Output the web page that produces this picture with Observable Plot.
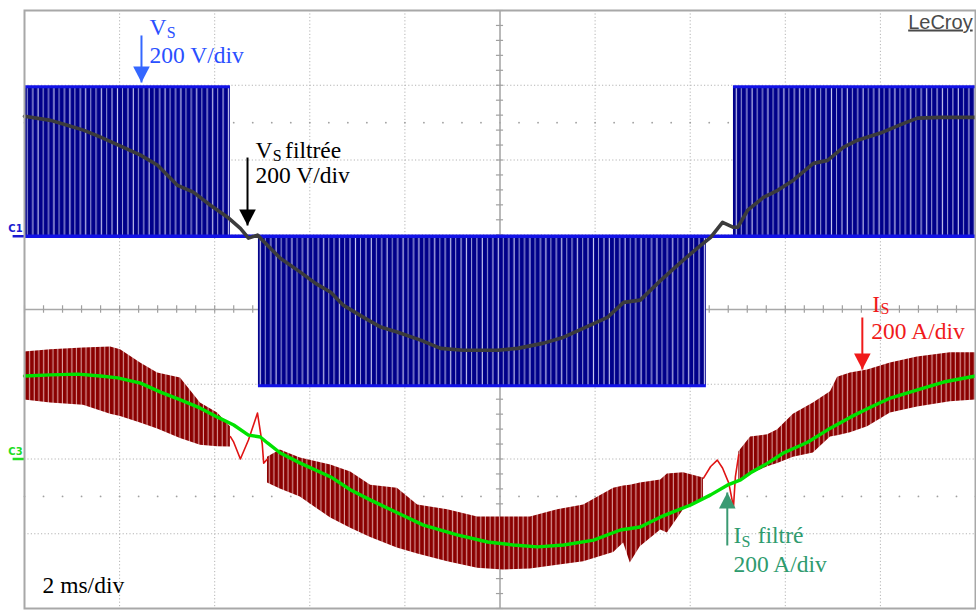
<!DOCTYPE html>
<html>
<head>
<meta charset="utf-8">
<script src="https://cdn.jsdelivr.net/npm/d3@7"></script>
<script src="https://cdn.jsdelivr.net/npm/@observablehq/plot@0.6"></script>
<style>
html, body { margin: 0; padding: 0; background: #fff; }
#chart svg { display: block; }
</style>
</head>
<body>
<svg width="0" height="0" style="position:absolute">
  <defs>
    <pattern id="pwmBlue" patternUnits="userSpaceOnUse" width="47.6" height="600">
      <rect width="47.6" height="600" fill="#00008a"/>
      <rect x="0.4" width="1.0" height="600" fill="#b8b8ea"/>
      <rect x="5.7" width="1.2" height="600" fill="#c4c4f0"/>
      <rect x="11.1" width="0.9" height="600" fill="#a8acdf"/>
      <rect x="16.3" width="1.1" height="600" fill="#bcbcec"/>
      <rect x="21.7" width="1.2" height="600" fill="#c8c8f2"/>
      <rect x="26.9" width="0.9" height="600" fill="#aeb0e2"/>
      <rect x="32.2" width="1.1" height="600" fill="#bdbdee"/>
      <rect x="37.5" width="1.2" height="600" fill="#c6c6f0"/>
      <rect x="42.8" width="0.9" height="600" fill="#b0b2e4"/>
    </pattern>
    <pattern id="ripRed" patternUnits="userSpaceOnUse" width="14.1" height="600">
      <rect width="14.1" height="600" fill="#8a0000"/>
      <rect x="0.8" width="1.2" height="600" fill="#dc9a9a"/>
      <rect x="5.5" width="1.0" height="600" fill="#e4aaaa"/>
      <rect x="10.1" width="1.2" height="600" fill="#d08c8c"/>
    </pattern>
  </defs>
</svg>
<div id="chart"></div>
<script>
// ---- display settings (oscilloscope) ----
const timeDomain = [0, 20];          // ms, 2 ms/div, 10 divisions
const divDomain = [-4, 4];           // vertical divisions
const voltsPerDiv = 200, ampsPerDiv = 200;
const vsOffsetDiv = 0.98;            // C1 zero level
const isOffsetDiv = -2.0;            // C3 zero level

// ---- grid ----
const gridT = [2, 4, 6, 8, 12, 14, 16, 18];
const gridDiv = [-3, -2, -1, 1, 2, 3];
const minorT = d3.range(0, 20.001, 0.4);
const minorDiv = d3.range(-4, 4.001, 0.2);
const dotRowDiv = [2.5, -2.5];

// ---- V_S (PWM) sections: start/end time (ms) and pulse level (V) ----
const pwmStart = [0, 4.92, 14.91];
const pwmEnd = [4.33, 14.34, 20];
const pwmLevel = [400, -400, 400];

// ---- V_S filtered (V) ----
const vsFiltT = [0, 0.55, 0.90, 1.24, 1.60, 2.08, 2.44, 2.80, 3.22, 3.55, 3.91, 4.27, 4.54, 4.71, 4.90, 5.11, 5.38, 5.80, 6.12, 6.44, 6.71, 7.13, 7.49, 7.85, 8.33, 8.75, 9.23, 9.95, 10.37, 10.92, 11.34, 11.90, 12.26, 12.60, 12.95, 13.38, 13.80, 14.15, 14.43, 14.68, 14.91, 15.00, 15.21, 15.54, 15.84, 16.17, 16.59, 16.89, 17.22, 17.52, 18.00, 18.49, 18.78, 19.26, 20.00];
const vsFiltV = [321, 310, 297, 284, 265, 238, 217, 190, 136, 118, 83, 51, 21, -5, 3, -24, -59, -96, -126, -150, -185, -217, -243, -257, -278, -300, -305, -305, -300, -286, -270, -238, -217, -177, -171, -118, -70, -32, -3, 37, 24, 24, 70, 104, 123, 150, 195, 203, 238, 257, 276, 302, 316, 318, 318];

// ---- I_S filtered (A) ----
const isFiltT = [0, 0.55, 1.12, 1.60, 1.96, 2.44, 2.86, 3.28, 3.70, 4.06, 4.40, 4.71, 4.96, 5.11, 5.38, 5.80, 6.44, 6.86, 7.28, 7.84, 8.39, 9.10, 9.74, 10.28, 10.79, 11.34, 11.97, 12.53, 12.95, 13.38, 13.59, 14.01, 14.43, 14.78, 15.06, 15.27, 15.63, 15.96, 16.47, 16.89, 17.37, 17.80, 18.21, 18.78, 19.33, 20.00];
const isFiltI = [222, 225, 227, 222, 217, 203, 179, 158, 136, 112, 91, 64, 59, 43, 16, -11, -48, -83, -110, -144, -177, -203, -222, -230, -235, -230, -217, -190, -182, -155, -144, -123, -96, -70, -56, -37, -11, 16, 45, 78, 112, 139, 163, 185, 206, 222];

// ---- I_S ripple envelope (A), three switching sections ----
const isBand1T = [0, 0.55, 1.24, 1.81, 2.02, 2.44, 2.80, 3.28, 3.70, 4.06, 4.33];
const isBand1Hi = [286, 292, 297, 300, 292, 257, 230, 217, 150, 123, 86];
const isBand1Lo = [158, 150, 144, 120, 114, 96, 80, 55, 37, 33, 32];
const isBand2T = [5.11, 5.38, 5.80, 6.44, 6.86, 7.28, 7.84, 8.27, 8.90, 9.53, 10.07, 10.64, 11.21, 11.76, 12.39, 12.60, 12.74, 12.95, 13.38, 13.52, 13.86, 14.28];
const isBand2Hi = [5, 24, 3, -16, -35, -70, -78, -123, -136, -155, -155, -155, -136, -123, -78, -72, -70, -64, -56, -40, -37, -51];
const isBand2Lo = [-64, -80, -102, -158, -185, -210, -238, -254, -275, -292, -297, -294, -284, -275, -250, -225, -278, -235, -190, -198, -136, -110];
const isBand3T = [15.02, 15.27, 15.63, 15.84, 16.17, 16.59, 16.95, 17.10, 17.37, 17.73, 18.21, 18.78, 19.47, 20.00];
const isBand3Hi = [19, 59, 65, 78, 120, 150, 180, 219, 230, 238, 257, 273, 284, 284];
const isBand3Lo = [-56, -40, -21, -12, 5, 16, 59, 62, 70, 86, 123, 139, 153, 158];

// ---- I_S around the zero-voltage intervals (A) ----
const isGap1T = [4.33, 4.40, 4.54, 4.71, 4.90, 5.00, 5.03, 5.11];
const isGap1I = [60, 45, 0, 51, 123, 40, -11, 0];
const isGap2T = [14.28, 14.43, 14.57, 14.68, 14.81, 14.91, 14.95, 15.02];
const isGap2I = [-51, -20, -3, -24, -64, -128, -48, 11];

// ---- annotations (time ms, vertical div) ----
const labelText = ["V", "S", "200 V/div", "V", "S", "filtrée", "200 V/div", "I", "S", "200 A/div", "I", "S", "filtré", "200 A/div", "2 ms/div"];
const labelT = [2.63, 2.99, 2.63, 4.86, 5.22, 5.48, 4.86, 17.83, 18.00, 17.81, 14.91, 15.08, 15.42, 14.91, 0.38];
const labelDiv = [3.666, 3.626, 3.291, 2.033, 1.986, 2.033, 1.686, -0.040, -0.062, -0.400, -3.130, -3.177, -3.130, -3.518, -3.786];
const labelSize = [23.5, 16, 23.5, 23.5, 16, 23.5, 23.5, 23.5, 16, 23.5, 23.5, 16, 23.5, 23.5, 23.5];
const labelColor = ["#2a50ff", "#2a50ff", "#2a50ff", "#000", "#000", "#000", "#000", "#f01a1a", "#f01a1a", "#f01a1a", "#2e9b6e", "#2e9b6e", "#2e9b6e", "#2e9b6e", "#000"];

const arrowT = [2.46, 4.69, 17.62, 14.78];
const arrowTail = [3.666, 2.033, -0.107, -3.157];
const arrowTip = [3.037, 1.124, -0.803, -2.448];
const arrowColor = ["#3467ff", "#000", "#f01a1a", "#3a9a72"];

const chanName = ["C1", "C3"];
const chanColor = ["#1a1ad0", "#22dd22"];
const chanZeroDiv = [vsOffsetDiv, isOffsetDiv];

// ---- build tables ----
const vsDiv = v => v / voltsPerDiv + vsOffsetDiv;
const isDiv = i => i / ampsPerDiv + isOffsetDiv;
const pwm = pwmStart.map((t1, k) => ({t1, t2: pwmEnd[k], lvl: vsDiv(pwmLevel[k])}));
const vsFilt = vsFiltT.map((t, k) => ({t, y: vsDiv(vsFiltV[k])}));
const isFilt = isFiltT.map((t, k) => ({t, y: isDiv(isFiltI[k])}));
const band = [];
[[isBand1T, isBand1Hi, isBand1Lo], [isBand2T, isBand2Hi, isBand2Lo], [isBand3T, isBand3Hi, isBand3Lo]].forEach((b, s) =>
  b[0].forEach((t, k) => band.push({s, t, hi: isDiv(b[1][k]), lo: isDiv(b[2][k])})));
const gaps = [];
[[isGap1T, isGap1I], [isGap2T, isGap2I]].forEach((g, s) => g[0].forEach((t, k) => gaps.push({s, t, y: isDiv(g[1][k])})));
const labels = labelText.map((text, k) => ({text, t: labelT[k], y: labelDiv[k], size: labelSize[k], color: labelColor[k]}));
const arrows = arrowT.map((t, k) => ({t, tail: arrowTail[k], tip: arrowTip[k], color: arrowColor[k], down: arrowTip[k] < arrowTail[k]}));
const chans = chanName.map((name, k) => ({name, color: chanColor[k], y: chanZeroDiv[k]}));

const headDown = {draw(c) { c.moveTo(0, 0); c.lineTo(-8.3, -16); c.lineTo(8.3, -16); c.closePath(); }};
const headUp = {draw(c) { c.moveTo(0, 0); c.lineTo(-8.3, 16); c.lineTo(8.3, 16); c.closePath(); }};

const serif = "'Liberation Serif', 'Times New Roman', serif";
const gridColor = "#b4b4b4";

const marks = [
  Plot.ruleX(gridT, {stroke: gridColor, strokeDasharray: "1.2,2.2", strokeWidth: 1}),
  Plot.ruleY(gridDiv, {stroke: gridColor, strokeDasharray: "1.2,2.2", strokeWidth: 1}),
  Plot.dot(minorT, {x: d => d, y: () => dotRowDiv[0], r: 0.9, fill: "#a0a0a0", stroke: null}),
  Plot.dot(minorT, {x: d => d, y: () => dotRowDiv[1], r: 0.9, fill: "#a0a0a0", stroke: null}),
  Plot.ruleX([10], {stroke: "#a8a8a8", strokeWidth: 1.6}),
  Plot.ruleY([0], {stroke: "#a8a8a8", strokeWidth: 1.6}),
  Plot.ruleX(minorT, {x: d => d, y1: -0.05, y2: 0.05, stroke: "#a0a0a0", strokeWidth: 1.2}),
  Plot.ruleY(minorDiv, {y: d => d, x1: 9.925, x2: 10.075, stroke: "#a0a0a0", strokeWidth: 1.2}),
  // V_S PWM
  Plot.rect(pwm, {x1: "t1", x2: "t2", y1: () => vsDiv(0), y2: "lvl", fill: "url(#pwmBlue)"}),
  Plot.ruleY(pwm, {y: "lvl", x1: "t1", x2: "t2", stroke: "#1212e6", strokeWidth: 3}),
  Plot.ruleY([vsDiv(0)], {x1: 0, x2: 20, stroke: "#1212e6", strokeWidth: 3.5}),
  // V_S filtered
  Plot.line(vsFilt, {x: "t", y: "y", stroke: "#3c3c3c", strokeWidth: 3.6, curve: "linear"}),
  // I_S ripple
  Plot.areaY(band, {x: "t", y1: "lo", y2: "hi", z: "s", fill: "url(#ripRed)", curve: "linear"}),
  Plot.line(gaps, {x: "t", y: "y", z: "s", stroke: "#e01414", strokeWidth: 1.6}),
  // I_S filtered
  Plot.line(isFilt, {x: "t", y: "y", stroke: "#00e200", strokeWidth: 3.4}),
  // arrows
  Plot.link(arrows, {x1: "t", x2: "t", y1: "tail", y2: "tip", stroke: "color", strokeWidth: 2}),
  Plot.dot(arrows.filter(d => d.down), {x: "t", y: "tip", symbol: headDown, r: 5, fill: "color", stroke: null}),
  Plot.dot(arrows.filter(d => !d.down), {x: "t", y: "tip", symbol: headUp, r: 5, fill: "color", stroke: null}),
  // labels
  Plot.text(labels, {x: "t", y: "y", text: "text", fill: "color", fontSize: "size", textAnchor: "start", lineAnchor: "bottom", fontFamily: serif}),
  Plot.text(["LeCroy"], {x: () => 19.94, y: () => 3.759, text: d => d, textAnchor: "end", lineAnchor: "bottom", fontSize: 20, fill: "#4a4a4a", fontFamily: "'Liberation Sans', Arial, sans-serif"}),
  // channel markers
  Plot.text(chans, {x: () => -0.19, y: "y", dy: -4, text: "name", fill: "color", fontSize: 10, fontWeight: "bold", lineAnchor: "bottom", fontFamily: "'DejaVu Sans', sans-serif"}),
  Plot.link(chans, {x1: () => -0.25, x2: () => 0, y1: "y", y2: "y", stroke: "color", strokeWidth: 2.5}),
  Plot.frame({stroke: "#a8a8a8", strokeWidth: 2})
];

const chart = Plot.plot({
  width: 976, height: 615,
  marginTop: 10, marginLeft: 24, marginRight: 1, marginBottom: 7,
  x: {domain: timeDomain, axis: null},
  y: {domain: divDomain, axis: null},
  color: {type: "identity"},
  symbol: {type: "identity"},
  style: {background: "#fff", overflow: "visible"},
  marks
});
chart.querySelectorAll("text").forEach(t => { if (t.textContent === "LeCroy") t.style.textDecoration = "underline"; });
document.getElementById("chart").appendChild(chart);
</script>
</body>
</html>
